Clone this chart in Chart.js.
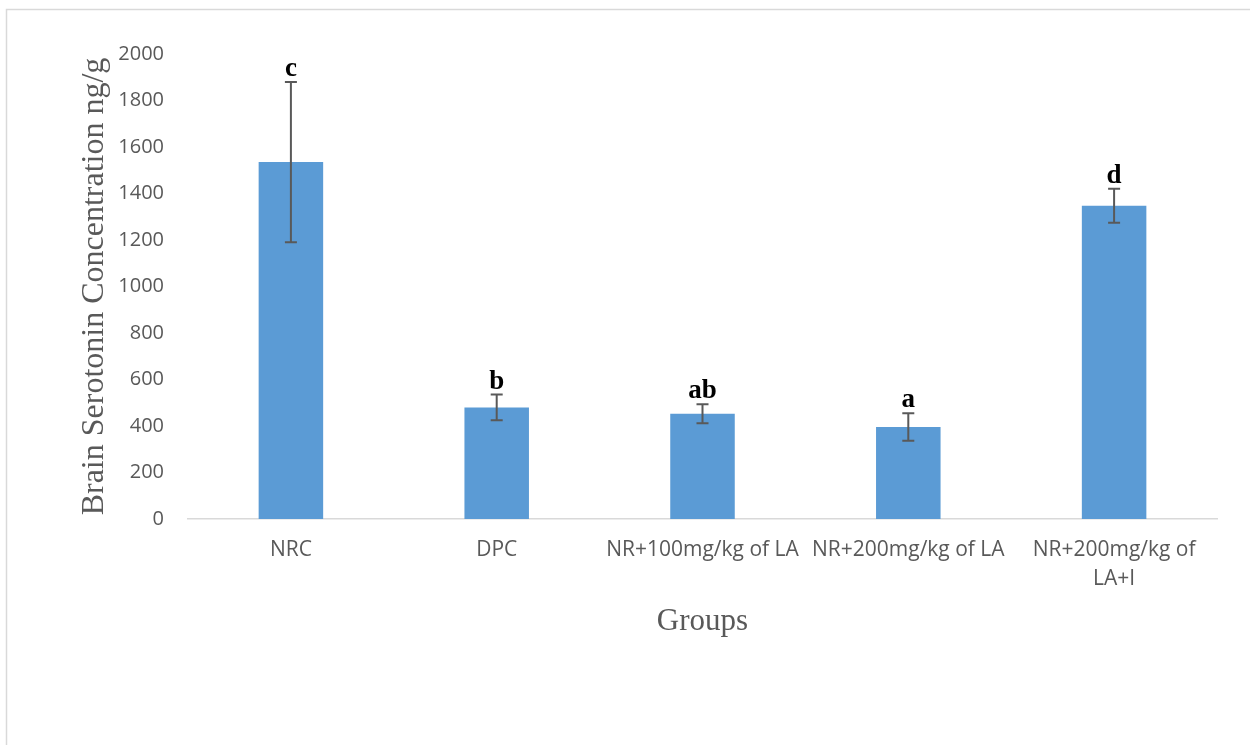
<!DOCTYPE html>
<html>
<head>
<meta charset="utf-8">
<title>Brain Serotonin Concentration</title>
<script src="https://cdn.jsdelivr.net/npm/chart.js@4.4.1/dist/chart.umd.min.js"></script>
<style>
  html, body { margin: 0; padding: 0; background: #ffffff; }
  #wrap { width: 1250px; height: 745px; position: relative; }
</style>
</head>
<body>
<div id="wrap"><canvas id="chart" width="1250" height="745"></canvas></div>
<script>
// Groups on the x axis
const groups = ['NRC', 'DPC', 'NR+100mg/kg of LA', 'NR+200mg/kg of LA', ['NR+200mg/kg of', 'LA+I']];
// Mean brain serotonin (ng/g) and its spread per group
const serotonin = [1535, 480, 453, 396, 1347];
const serotoninSD = [345, 55, 41, 59, 73];
// Significance letters printed above each error bar
const letters = ['c', 'b', 'ab', 'a', 'd'];
// Value axis range
const yMin = 0;
const yMax = 2000;
const yStep = 200;

const GREY = '#595959';

// Light frame along the top and left edges of the figure
const framePlugin = {
  id: 'frame',
  beforeDraw(chart) {
    const ctx = chart.ctx;
    ctx.save();
    ctx.strokeStyle = '#d9d9d9';
    ctx.lineWidth = 1.5;
    ctx.beginPath();
    ctx.moveTo(6.5, chart.height);
    ctx.lineTo(6.5, 9.5);
    ctx.lineTo(chart.width, 9.5);
    ctx.stroke();
    ctx.restore();
  }
};

// Error bars (mean ± SD) and the letters above them
const errorBarPlugin = {
  id: 'errorBars',
  afterDatasetsDraw(chart) {
    const ctx = chart.ctx;
    const y = chart.scales.y;
    const meta = chart.getDatasetMeta(0);
    ctx.save();
    meta.data.forEach((bar, i) => {
      const x = bar.x;
      const top = y.getPixelForValue(serotonin[i] + serotoninSD[i]);
      const bot = y.getPixelForValue(serotonin[i] - serotoninSD[i]);
      ctx.strokeStyle = GREY;
      ctx.lineWidth = 2;
      ctx.beginPath();
      ctx.moveTo(x, top);
      ctx.lineTo(x, bot);
      ctx.moveTo(x - 6, top);
      ctx.lineTo(x + 6, top);
      ctx.moveTo(x - 6, bot);
      ctx.lineTo(x + 6, bot);
      ctx.stroke();

      ctx.fillStyle = '#000000';
      ctx.font = 'bold 27px "Liberation Serif", "Times New Roman", serif';
      ctx.textAlign = 'center';
      ctx.textBaseline = 'alphabetic';
      ctx.fillText(letters[i], x, top - 6);
    });
    ctx.restore();
  }
};

new Chart(document.getElementById('chart'), {
  type: 'bar',
  data: {
    labels: groups,
    datasets: [{
      data: serotonin,
      backgroundColor: '#5b9bd5',
      borderWidth: 0,
      barPercentage: 0.3135,
      categoryPercentage: 1.0
    }]
  },
  options: {
    responsive: false,
    animation: false,
    devicePixelRatio: 1,
    layout: { padding: { left: 0, top: 54, right: 33, bottom: 26 } },
    plugins: {
      legend: { display: false },
      tooltip: { enabled: false }
    },
    scales: {
      x: {
        grid: { display: false, drawTicks: false },
        border: { display: true, color: '#d9d9d9', width: 1.5 },
        ticks: {
          color: GREY,
          padding: 17,
          maxRotation: 0,
          autoSkip: false,
          font: { family: '"Open Sans", sans-serif', size: 21, lineHeight: 1.38 }
        },
        title: {
          display: true,
          text: 'Groups',
          color: GREY,
          font: { family: '"Liberation Serif", "Times New Roman", serif', size: 31, lineHeight: 1.2 },
          padding: { top: 0, bottom: 79 }
        },
        afterFit(scale) { scale.height = 200; }
      },
      y: {
        min: yMin,
        max: yMax,
        grid: { display: false, drawTicks: false },
        border: { display: false },
        ticks: {
          stepSize: yStep,
          color: GREY,
          padding: 24,
          font: { family: '"Open Sans", sans-serif', size: 20 },
          callback: (value) => String(value)
        },
        title: {
          display: true,
          text: 'Brain Serotonin Concentration ng/g',
          color: GREY,
          font: { family: '"Liberation Serif", "Times New Roman", serif', size: 32, lineHeight: 1.2 },
          padding: { top: 75, bottom: 0 }
        },
        afterFit(scale) { scale.width = 188; }
      }
    }
  },
  plugins: [framePlugin, errorBarPlugin]
});
</script>
</body>
</html>
